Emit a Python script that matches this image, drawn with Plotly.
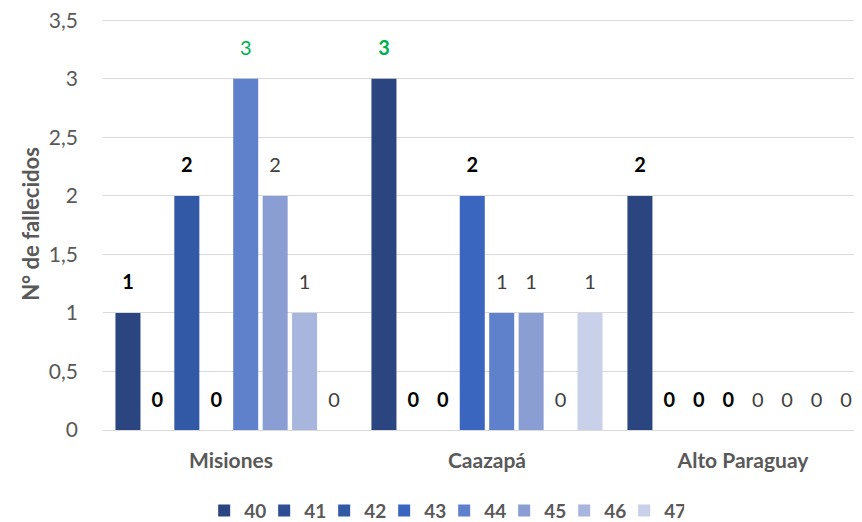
import plotly.graph_objects as go

departamentos = ['Misiones', 'Caazapá', 'Alto Paraguay']
semanas = ['40', '41', '42', '43', '44', '45', '46', '47']

# fallecidos por semana, en el orden de departamentos
s40 = [1, 3, 2]
s41 = [0, 0, 0]
s42 = [2, 0, 0]
s43 = [0, 2, 0]
s44 = [3, 1, 0]
s45 = [2, 1, 0]
s46 = [1, 0, 0]
s47 = [0, 1, 0]
valores = [s40, s41, s42, s43, s44, s45, s46, s47]

# estilo de la etiqueta: b = negrita negra, g = verde, gb = verde negrita, n = gris
estilos = [
    ['b', 'gb', 'b'],
    ['b', 'b', 'b'],
    ['b', 'b', 'b'],
    ['b', 'b', 'b'],
    ['g', 'n', 'n'],
    ['n', 'n', 'n'],
    ['n', 'n', 'n'],
    ['n', 'n', 'n'],
]

colores = ['#2a4580', '#2d4e93', '#3159a6', '#3b66bf',
           '#5f80cb', '#8a9ed4', '#a8b5dd', '#c8d0ea']

color_texto = {'b': '#000000', 'g': '#00b050', 'gb': '#00b050', 'n': '#404040'}
FUENTE = 'Lato'
GAP = 0.08


def etiqueta(v, e):
    s = str(v)
    if e in ('b', 'gb'):
        s = '<b>' + s + '</b>'
    return s


fig = go.Figure()

for i, sem in enumerate(semanas):
    fig.add_trace(go.Bar(
        x=departamentos, y=valores[i], name=sem,
        marker=dict(color=colores[i], line=dict(width=0)),
    ))

# etiquetas de datos, agrupadas igual que las barras
for i, sem in enumerate(semanas):
    fig.add_trace(go.Scatter(
        x=departamentos, y=valores[i], name=sem, showlegend=False,
        mode='markers+text', hoverinfo='skip',
        marker=dict(size=28, opacity=0),
        text=[etiqueta(v, e) for v, e in zip(valores[i], estilos[i])],
        textposition='top center',
        textfont=dict(family=FUENTE, size=20,
                      color=[color_texto[e] for e in estilos[i]]),
        cliponaxis=False,
    ))

fig.update_layout(
    width=862, height=522,
    barmode='group', bargap=GAP, bargroupgap=0.15,
    scattermode='group', scattergap=GAP,
    separators=',.',
    plot_bgcolor='white', paper_bgcolor='white',
    margin=dict(l=95, r=8, t=10, b=100, autoexpand=False),
    font=dict(family=FUENTE, color='#595959'),
    showlegend=True,
    legend=dict(orientation='h', x=0.506, xanchor='center', xref='container',
                y=0.037, yanchor='middle', yref='container',
                font=dict(family=FUENTE, size=19, color='#595959', weight='bold'),
                itemwidth=30, entrywidth=15, tracegroupgap=0, traceorder='normal'),
)

fig.update_xaxes(range=[-0.5, 2.465], showgrid=False, showline=False,
                 tickfont=dict(family=FUENTE, size=21, color='#595959', weight='bold'),
                 ticks='', ticklabelstandoff=16)
fig.update_yaxes(range=[0, 3.52], dtick=0.5, tick0=0,
                 showgrid=True, gridcolor='#d9d9d9', gridwidth=1,
                 zeroline=True, zerolinecolor='#d9d9d9', zerolinewidth=1,
                 showline=False, ticks='', ticklabeloverflow='allow',
                 tickfont=dict(family=FUENTE, size=21, color='#595959'),
                 ticklabelstandoff=24,
                 title=dict(text='N° de fallecidos', standoff=3,
                            font=dict(family=FUENTE, size=22, color='#595959', weight='bold')))

fig.write_html("out.html")
